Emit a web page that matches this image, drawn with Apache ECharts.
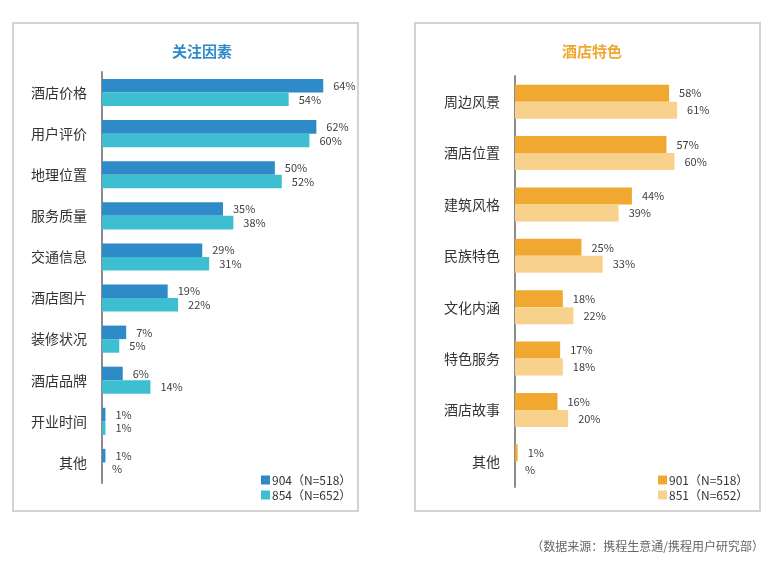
<!DOCTYPE html>
<html>
<head>
<meta charset="utf-8">
<script src="https://cdn.jsdelivr.net/npm/echarts@6/dist/echarts.min.js"></script>
<style>
  html, body { margin: 0; padding: 0; background: #fff; }
  #main { width: 774px; height: 567px; }
</style>
</head>
<body>
<div id="main"></div>
<script>
var chart = echarts.init(document.getElementById('main'));

// 关注因素
var factorCats = ['酒店价格', '用户评价', '地理位置', '服务质量', '交通信息', '酒店图片', '装修状况', '酒店品牌', '开业时间', '其他'];
var factor904 = [64, 62, 50, 35, 29, 19, 7, 6, 1, 1];
var factor854 = [54, 60, 52, 38, 31, 22, 5, 14, 1, 0];

// 酒店特色
var featureCats = ['周边风景', '酒店位置', '建筑风格', '民族特色', '文化内涵', '特色服务', '酒店故事', '其他'];
var feature901 = [58, 57, 44, 25, 18, 17, 16, 1];
var feature851 = [61, 60, 39, 33, 22, 18, 20, 0];

var fontCJK = '"Noto Sans CJK SC", "Noto Sans", sans-serif';

function pctLabel(p) {
    return (p.value === 0 ? '' : p.value) + '%';
}

function barSeries(name, data, color, idx) {
    return {
        name: name,
        type: 'bar',
        xAxisIndex: idx,
        yAxisIndex: idx,
        data: data,
        barGap: '0%',
        barCategoryGap: '34%',
        itemStyle: { color: color },
        label: {
            show: true,
            position: 'right',
            distance: 10,
            color: '#404040',
            fontSize: 11,
            fontFamily: fontCJK,
            formatter: pctLabel
        }
    };
}

function valueAxis(idx) {
    return {
        type: 'value',
        gridIndex: idx,
        min: 0,
        max: 70,
        show: false
    };
}

function catAxis(idx, cats) {
    return {
        type: 'category',
        gridIndex: idx,
        inverse: true,
        data: cats,
        axisTick: { show: false },
        axisLine: { lineStyle: { color: '#8c8c8c', width: 2 } },
        axisLabel: {
            margin: 15,
            color: '#333',
            fontSize: 14,
            fontFamily: fontCJK
        }
    };
}

var option = {
    backgroundColor: '#fff',
    animation: false,
    title: [{
        text: '关注因素',
        left: 197,
        top: 39,
        textAlign: 'center',
        textStyle: { color: '#2e8bc8', fontSize: 15, fontWeight: 'bold', fontFamily: fontCJK }
    }, {
        text: '酒店特色',
        left: 587,
        top: 39,
        textAlign: 'center',
        textStyle: { color: '#f0a830', fontSize: 15, fontWeight: 'bold', fontFamily: fontCJK }
    }],
    legend: [{
        orient: 'vertical',
        left: 256,
        top: 469,
        itemWidth: 9,
        itemHeight: 9,
        itemGap: 3,
        icon: 'rect',
        data: ['904（N=518）', '854（N=652）'],
        textStyle: { color: '#333', fontSize: 12, fontFamily: fontCJK, padding: [0, 0, 0, -3] }
    }, {
        orient: 'vertical',
        left: 653,
        top: 469,
        itemWidth: 9,
        itemHeight: 9,
        itemGap: 3,
        icon: 'rect',
        data: ['901（N=518）', '851（N=652）'],
        textStyle: { color: '#333', fontSize: 12, fontFamily: fontCJK, padding: [0, 0, 0, -3] }
    }],
    grid: [
        { left: 102, top: 72, bottom: 84, right: 430 },
        { left: 515, top: 76, bottom: 80, right: 73 }
    ],
    xAxis: [valueAxis(0), valueAxis(1)],
    yAxis: [catAxis(0, factorCats), catAxis(1, featureCats)],
    series: [
        barSeries('904（N=518）', factor904, '#2e8bc8', 0),
        barSeries('854（N=652）', factor854, '#3ebfd1', 0),
        barSeries('901（N=518）', feature901, '#f0a830', 1),
        barSeries('851（N=652）', feature851, '#f8d28c', 1)
    ],
    graphic: [{
        type: 'rect',
        shape: { x: 13, y: 23, width: 345, height: 488 },
        style: { fill: 'none', stroke: '#d3d3d3', lineWidth: 2 },
        z: -1
    }, {
        type: 'rect',
        shape: { x: 415, y: 23, width: 345, height: 488 },
        style: { fill: 'none', stroke: '#d3d3d3', lineWidth: 2 },
        z: -1
    }, {
        type: 'text',
        right: 10,
        top: 540,
        style: {
            text: '（数据来源：携程生意通/携程用户研究部）',
            fill: '#666',
            font: '12px ' + fontCJK
        }
    }]
};

chart.setOption(option);
</script>
</body>
</html>
